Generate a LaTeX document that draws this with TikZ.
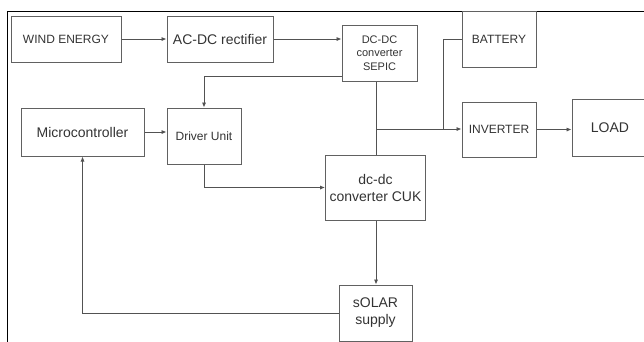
\documentclass[tikz,border=0pt]{standalone}
\usepackage{fontspec}
\setmainfont{Liberation Sans}
\usetikzlibrary{arrows.meta}
\tikzset{
  blk/.style={draw=black!62, line width=1pt, text=black!80, align=center, inner sep=0pt, anchor=center},
  big/.style={font=\fontsize{14}{17}\selectfont},
  small/.style={font=\fontsize{12}{14}\selectfont},
  tiny/.style={font=\fontsize{11}{13.5}\selectfont},
  wire/.style={draw=black!68, line width=0.9pt},
  arr/.style={wire, -{Latex[length=5pt,width=4.2pt]}},
  frame/.style={draw=black, line width=0.9pt}
}
\begin{document}
\begin{tikzpicture}[x=1pt,y=-1pt]
\useasboundingbox (0,0) rectangle (644,341);
\clip (0,0) rectangle (644,341);
\draw[frame] (644,11) -- (7,11) -- (7,342);
\node[blk,small,minimum width=110pt,minimum height=46pt] (wind) at (66,39) {WIND ENERGY};
\node[blk,big,minimum width=106pt,minimum height=46pt] (acdc) at (220,39) {AC-DC rectifier};
\node[blk,tiny,minimum width=75pt,minimum height=56pt] (sepic) at (379.5,53) {DC-DC\\converter\\SEPIC};
\node[blk,small,minimum width=74pt,minimum height=56pt] (battery) at (499,39) {BATTERY};
\node[blk,big,minimum width=123pt,minimum height=48pt] (micro) at (82.5,132) {Microcontroller};
\node[blk,small,minimum width=74pt,minimum height=56pt] (driver) at (204,136) {Driver Unit};
\node[blk,small,minimum width=74pt,minimum height=55pt] (inverter) at (499,129.5) {INVERTER};
\node[blk,big,minimum width=76pt,minimum height=57pt] (load) at (610,127.5) {LOAD};
\node[blk,big,minimum width=100pt,minimum height=65pt] (cuk) at (375.5,187.5) {dc-dc\\converter CUK};
\node[blk,big,minimum width=73pt,minimum height=56pt] (solar) at (375.5,313) {sOLAR\\supply};
\coordinate (sepicout) at (342,76);
\coordinate (j) at (376,129);
\coordinate (bj) at (443,129);
\coordinate (batout) at (462,39);
% connectors
\draw[arr] (wind.east) -- (acdc.west);
\draw[arr] (acdc.east) -- (acdc.east -| sepic.west);
\draw[arr] (sepicout) -| (driver.north);
\draw[arr] (micro.east) -- (micro.east -| driver.west);
\draw[arr] (driver.south) |- (cuk.west);
\draw[wire] (cuk.north -| j) -- (sepic.south -| j);
\draw[arr] (j) -- (j -| inverter.west);
\draw[wire] (batout) -| (bj);
\draw[arr] (inverter.east) -- (inverter.east -| load.west);
\draw[arr] (cuk.south -| j) -- (solar.north -| j);
\draw[arr] (solar.west) -| (micro.south);
\end{tikzpicture}
\end{document}
